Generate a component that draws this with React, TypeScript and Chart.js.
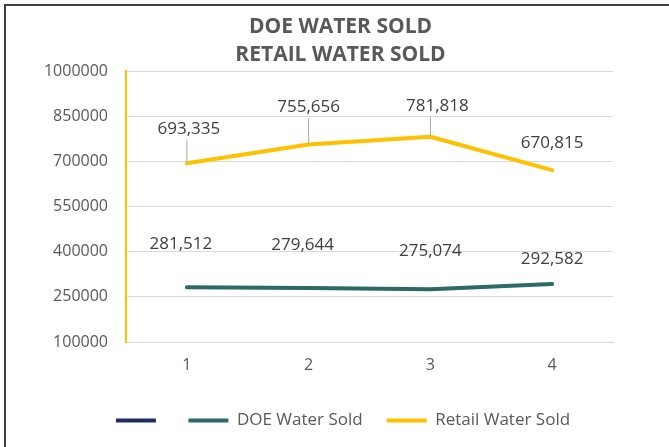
import React, { useEffect, useRef } from "react";
import { Chart, registerables } from "chart.js";

Chart.register(...registerables);

const categories = ["1", "2", "3", "4"];
const doeWaterSold = [281512, 279644, 275074, 292582];
const retailWaterSold = [693335, 755656, 781818, 670815];
const emptySeries: (number | null)[] = [null, null, null, null];
const yTicks = [100000, 250000, 400000, 550000, 700000, 850000, 1000000];
const titleLines = ["DOE WATER SOLD", "RETAIL WATER SOLD"];
const seriesNames = ["", "DOE Water Sold", "Retail Water Sold"];

const FONT = "'Open Sans', 'Noto Sans', sans-serif";
const GRAY_TEXT = "#595959";
const LABEL_TEXT = "#404040";

// label placement (style, relative to each point)
const labelStyle: Record<number, { dx: number[]; dy: number[]; leader: boolean[] }> = {
  1: { dx: [-6, -6, 0, 0], dy: [-43, -43, -38, -25], leader: [false, false, false, false] },
  2: { dx: [2, 0, 7, 0], dy: [-34, -37, -31, -27], leader: [true, true, true, false] },
};

const titlePlugin = {
  id: "twoLineTitle",
  afterDraw(chart: any) {
    const ctx = chart.ctx;
    ctx.save();
    ctx.font = `bold 21px ${FONT}`;
    ctx.fillStyle = GRAY_TEXT;
    ctx.textAlign = "center";
    ctx.textBaseline = "alphabetic";
    const cx = 340.5;
    ctx.fillText(titleLines[0], cx, 32.5);
    ctx.fillText(titleLines[1], cx, 61);
    ctx.restore();
  },
};

const dataLabelPlugin = {
  id: "dataLabels",
  afterDatasetsDraw(chart: any) {
    const ctx = chart.ctx;
    ctx.save();
    ctx.font = `17px ${FONT}`;
    ctx.textAlign = "center";
    ctx.textBaseline = "middle";
    chart.data.datasets.forEach((ds: any, di: number) => {
      const st = labelStyle[di];
      if (!st) return;
      const meta = chart.getDatasetMeta(di);
      meta.data.forEach((pt: any, i: number) => {
        const v = ds.data[i];
        if (v == null) return;
        const lx = pt.x + st.dx[i];
        const ly = pt.y + st.dy[i];
        if (st.leader[i]) {
          ctx.strokeStyle = "#a6a6a6";
          ctx.lineWidth = 1;
          ctx.beginPath();
          ctx.moveTo(lx - st.dx[i], ly + 11);
          ctx.lineTo(pt.x, pt.y - 1);
          ctx.stroke();
        }
        ctx.fillStyle = LABEL_TEXT;
        ctx.fillText(Number(v).toLocaleString("en-US"), lx, ly);
      });
    });
    ctx.restore();
  },
};

export default function App() {
  const ref = useRef<HTMLCanvasElement | null>(null);
  useEffect(() => {
    document.body.style.margin = "0";
    document.body.style.overflow = "hidden";
    const canvas = ref.current!;
    const chart = new Chart(canvas, {
      type: "line",
      data: {
        labels: categories,
        datasets: [
          {
            label: seriesNames[0],
            data: emptySeries,
            borderColor: "#1F2D5E",
            backgroundColor: "#1F2D5E",
            borderWidth: 4,
            borderCapStyle: "round",
            pointRadius: 0,
            pointStyle: "line",
          },
          {
            label: seriesNames[1],
            data: doeWaterSold,
            borderColor: "#2C6A65",
            backgroundColor: "#2C6A65",
            borderWidth: 4,
            borderCapStyle: "round",
            borderJoinStyle: "round",
            pointRadius: 0,
            pointStyle: "line",
            tension: 0,
          },
          {
            label: seriesNames[2],
            data: retailWaterSold,
            borderColor: "#FFC000",
            backgroundColor: "#FFC000",
            borderWidth: 4,
            borderCapStyle: "round",
            borderJoinStyle: "round",
            pointRadius: 0,
            pointStyle: "line",
            tension: 0,
          },
        ],
      },
      options: {
        responsive: false,
        animation: false,
        events: [],
        layout: { padding: { top: 71, left: 17, right: 0, bottom: 8 } },
        plugins: {
          title: { display: false },
          legend: {
            display: true,
            position: "bottom",
            labels: {
              usePointStyle: true,
              pointStyle: "line",
              pointStyleWidth: 40,
              color: GRAY_TEXT,
              font: { family: FONT, size: 17 },
              padding: 24,
            },
          },
          tooltip: { enabled: false },
        },
        scales: {
          x: {
            type: "category",
            offset: true,
            grid: { display: false },
            border: { display: true, color: "#d9d9d9", width: 1 },
            ticks: { color: GRAY_TEXT, font: { family: FONT, size: 16 }, padding: 6 },
            afterFit: (s: any) => {
              s.height = 46;
            },
          },
          y: {
            min: 100000,
            max: 1000000,
            afterBuildTicks: (s: any) => {
              s.ticks = yTicks.map((v) => ({ value: v }));
            },
            grid: { color: "#d9d9d9", lineWidth: 1, drawTicks: false },
            border: { display: true, color: "#FFC000", width: 2 },
            ticks: {
              color: GRAY_TEXT,
              font: { family: FONT, size: 16 },
              padding: 18,
              callback: (v: any) => String(v),
            },
            afterFit: (s: any) => {
              s.width = 109;
            },
          },
          ySpacer: {
            type: "linear",
            position: "right",
            display: true,
            grid: { display: false },
            border: { display: false },
            ticks: { display: false },
            afterFit: (s: any) => {
              s.width = 56;
            },
          },
        },
      },
      plugins: [dataLabelPlugin, titlePlugin],
    });
    return () => chart.destroy();
  }, []);

  return (
    <div style={{ position: "fixed", left: 0, top: 0, width: 669, height: 447, overflow: "hidden", background: "#fff" }}>
      <div
        style={{
          position: "absolute",
          left: 4,
          top: 4,
          width: 700,
          height: 480,
          border: "2px solid #404040",
          boxSizing: "border-box",
        }}
      />
      <canvas ref={ref} width={669} height={447} style={{ position: "absolute", left: 0, top: 0, width: 669, height: 447 }} />
    </div>
  );
}
